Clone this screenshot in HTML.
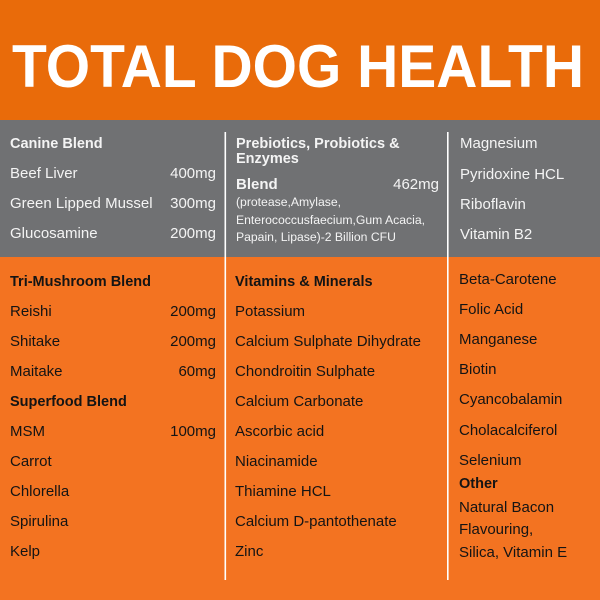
<!DOCTYPE html>
<html>
<head>
<meta charset="utf-8">
<style>
html,body{margin:0;padding:0;background:#f37321;}
svg{display:block;}
text{font-family:"Liberation Sans",Arial,sans-serif;}
.w{fill:#f4f4f4;}
.k{fill:#141414;}
.r{font-size:15px;}
.b{font-size:14.5px;font-weight:bold;}
.s{font-size:12.2px;}
</style>
</head>
<body>
<svg width="600" height="600" viewBox="0 0 600 600" xmlns="http://www.w3.org/2000/svg">
  <rect x="0" y="0" width="600" height="600" fill="#f37321"/>
  <rect x="0" y="0" width="600" height="120" fill="#e96b0a"/>
  <rect x="0" y="120" width="600" height="137" fill="#707173"/>
  <text x="12" y="87" font-size="60" font-weight="bold" fill="#ffffff" textLength="572" lengthAdjust="spacingAndGlyphs">TOTAL DOG HEALTH</text>

  <rect x="224.5" y="132" width="1.6" height="448" fill="#ffffff"/>
  <rect x="447" y="132" width="1.6" height="448" fill="#ffffff"/>

  <!-- Gray section col 1 -->
  <text class="w b" x="10" y="148">Canine Blend</text>
  <text class="w r" x="10" y="178">Beef Liver</text>
  <text class="w r" x="216" y="178" text-anchor="end">400mg</text>
  <text class="w r" x="10" y="208">Green Lipped Mussel</text>
  <text class="w r" x="216" y="208" text-anchor="end">300mg</text>
  <text class="w r" x="10" y="238">Glucosamine</text>
  <text class="w r" x="216" y="238" text-anchor="end">200mg</text>

  <!-- Gray section col 2 -->
  <text class="w b" x="236" y="148">Prebiotics, Probiotics &amp;</text>
  <text class="w b" x="236" y="163">Enzymes</text>
  <text class="w b" x="236" y="189" style="font-size:15px">Blend</text>
  <text class="w r" x="439" y="189" text-anchor="end">462mg</text>
  <text class="w s" x="236" y="206">(protease,Amylase,</text>
  <text class="w s" x="236" y="224">Enterococcusfaecium,Gum Acacia,</text>
  <text class="w s" x="236" y="241">Papain, Lipase)-2 Billion CFU</text>

  <!-- Gray section col 3 -->
  <text class="w r" x="460" y="148">Magnesium</text>
  <text class="w r" x="460" y="179">Pyridoxine HCL</text>
  <text class="w r" x="460" y="209">Riboflavin</text>
  <text class="w r" x="460" y="239">Vitamin B2</text>

  <!-- Orange col 1 -->
  <text class="k b" x="10" y="286">Tri-Mushroom Blend</text>
  <text class="k r" x="10" y="316">Reishi</text>
  <text class="k r" x="216" y="316" text-anchor="end">200mg</text>
  <text class="k r" x="10" y="346">Shitake</text>
  <text class="k r" x="216" y="346" text-anchor="end">200mg</text>
  <text class="k r" x="10" y="376">Maitake</text>
  <text class="k r" x="216" y="376" text-anchor="end">60mg</text>
  <text class="k b" x="10" y="406">Superfood Blend</text>
  <text class="k r" x="10" y="436">MSM</text>
  <text class="k r" x="216" y="436" text-anchor="end">100mg</text>
  <text class="k r" x="10" y="466">Carrot</text>
  <text class="k r" x="10" y="496">Chlorella</text>
  <text class="k r" x="10" y="526">Spirulina</text>
  <text class="k r" x="10" y="556">Kelp</text>

  <!-- Orange col 2 -->
  <text class="k b" x="235" y="286">Vitamins &amp; Minerals</text>
  <text class="k r" x="235" y="316">Potassium</text>
  <text class="k r" x="235" y="346">Calcium Sulphate Dihydrate</text>
  <text class="k r" x="235" y="376">Chondroitin Sulphate</text>
  <text class="k r" x="235" y="406">Calcium Carbonate</text>
  <text class="k r" x="235" y="436">Ascorbic acid</text>
  <text class="k r" x="235" y="466">Niacinamide</text>
  <text class="k r" x="235" y="496">Thiamine HCL</text>
  <text class="k r" x="235" y="526">Calcium D-pantothenate</text>
  <text class="k r" x="235" y="556">Zinc</text>

  <!-- Orange col 3 -->
  <text class="k r" x="459" y="284">Beta-Carotene</text>
  <text class="k r" x="459" y="314">Folic Acid</text>
  <text class="k r" x="459" y="344">Manganese</text>
  <text class="k r" x="459" y="374">Biotin</text>
  <text class="k r" x="459" y="404">Cyancobalamin</text>
  <text class="k r" x="459" y="435">Cholacalciferol</text>
  <text class="k r" x="459" y="465">Selenium</text>
  <text class="k b" x="459" y="488">Other</text>
  <text class="k r" x="459" y="512">Natural Bacon</text>
  <text class="k r" x="459" y="534">Flavouring,</text>
  <text class="k r" x="459" y="557">Silica, Vitamin E</text>
</svg>
</body>
</html>
